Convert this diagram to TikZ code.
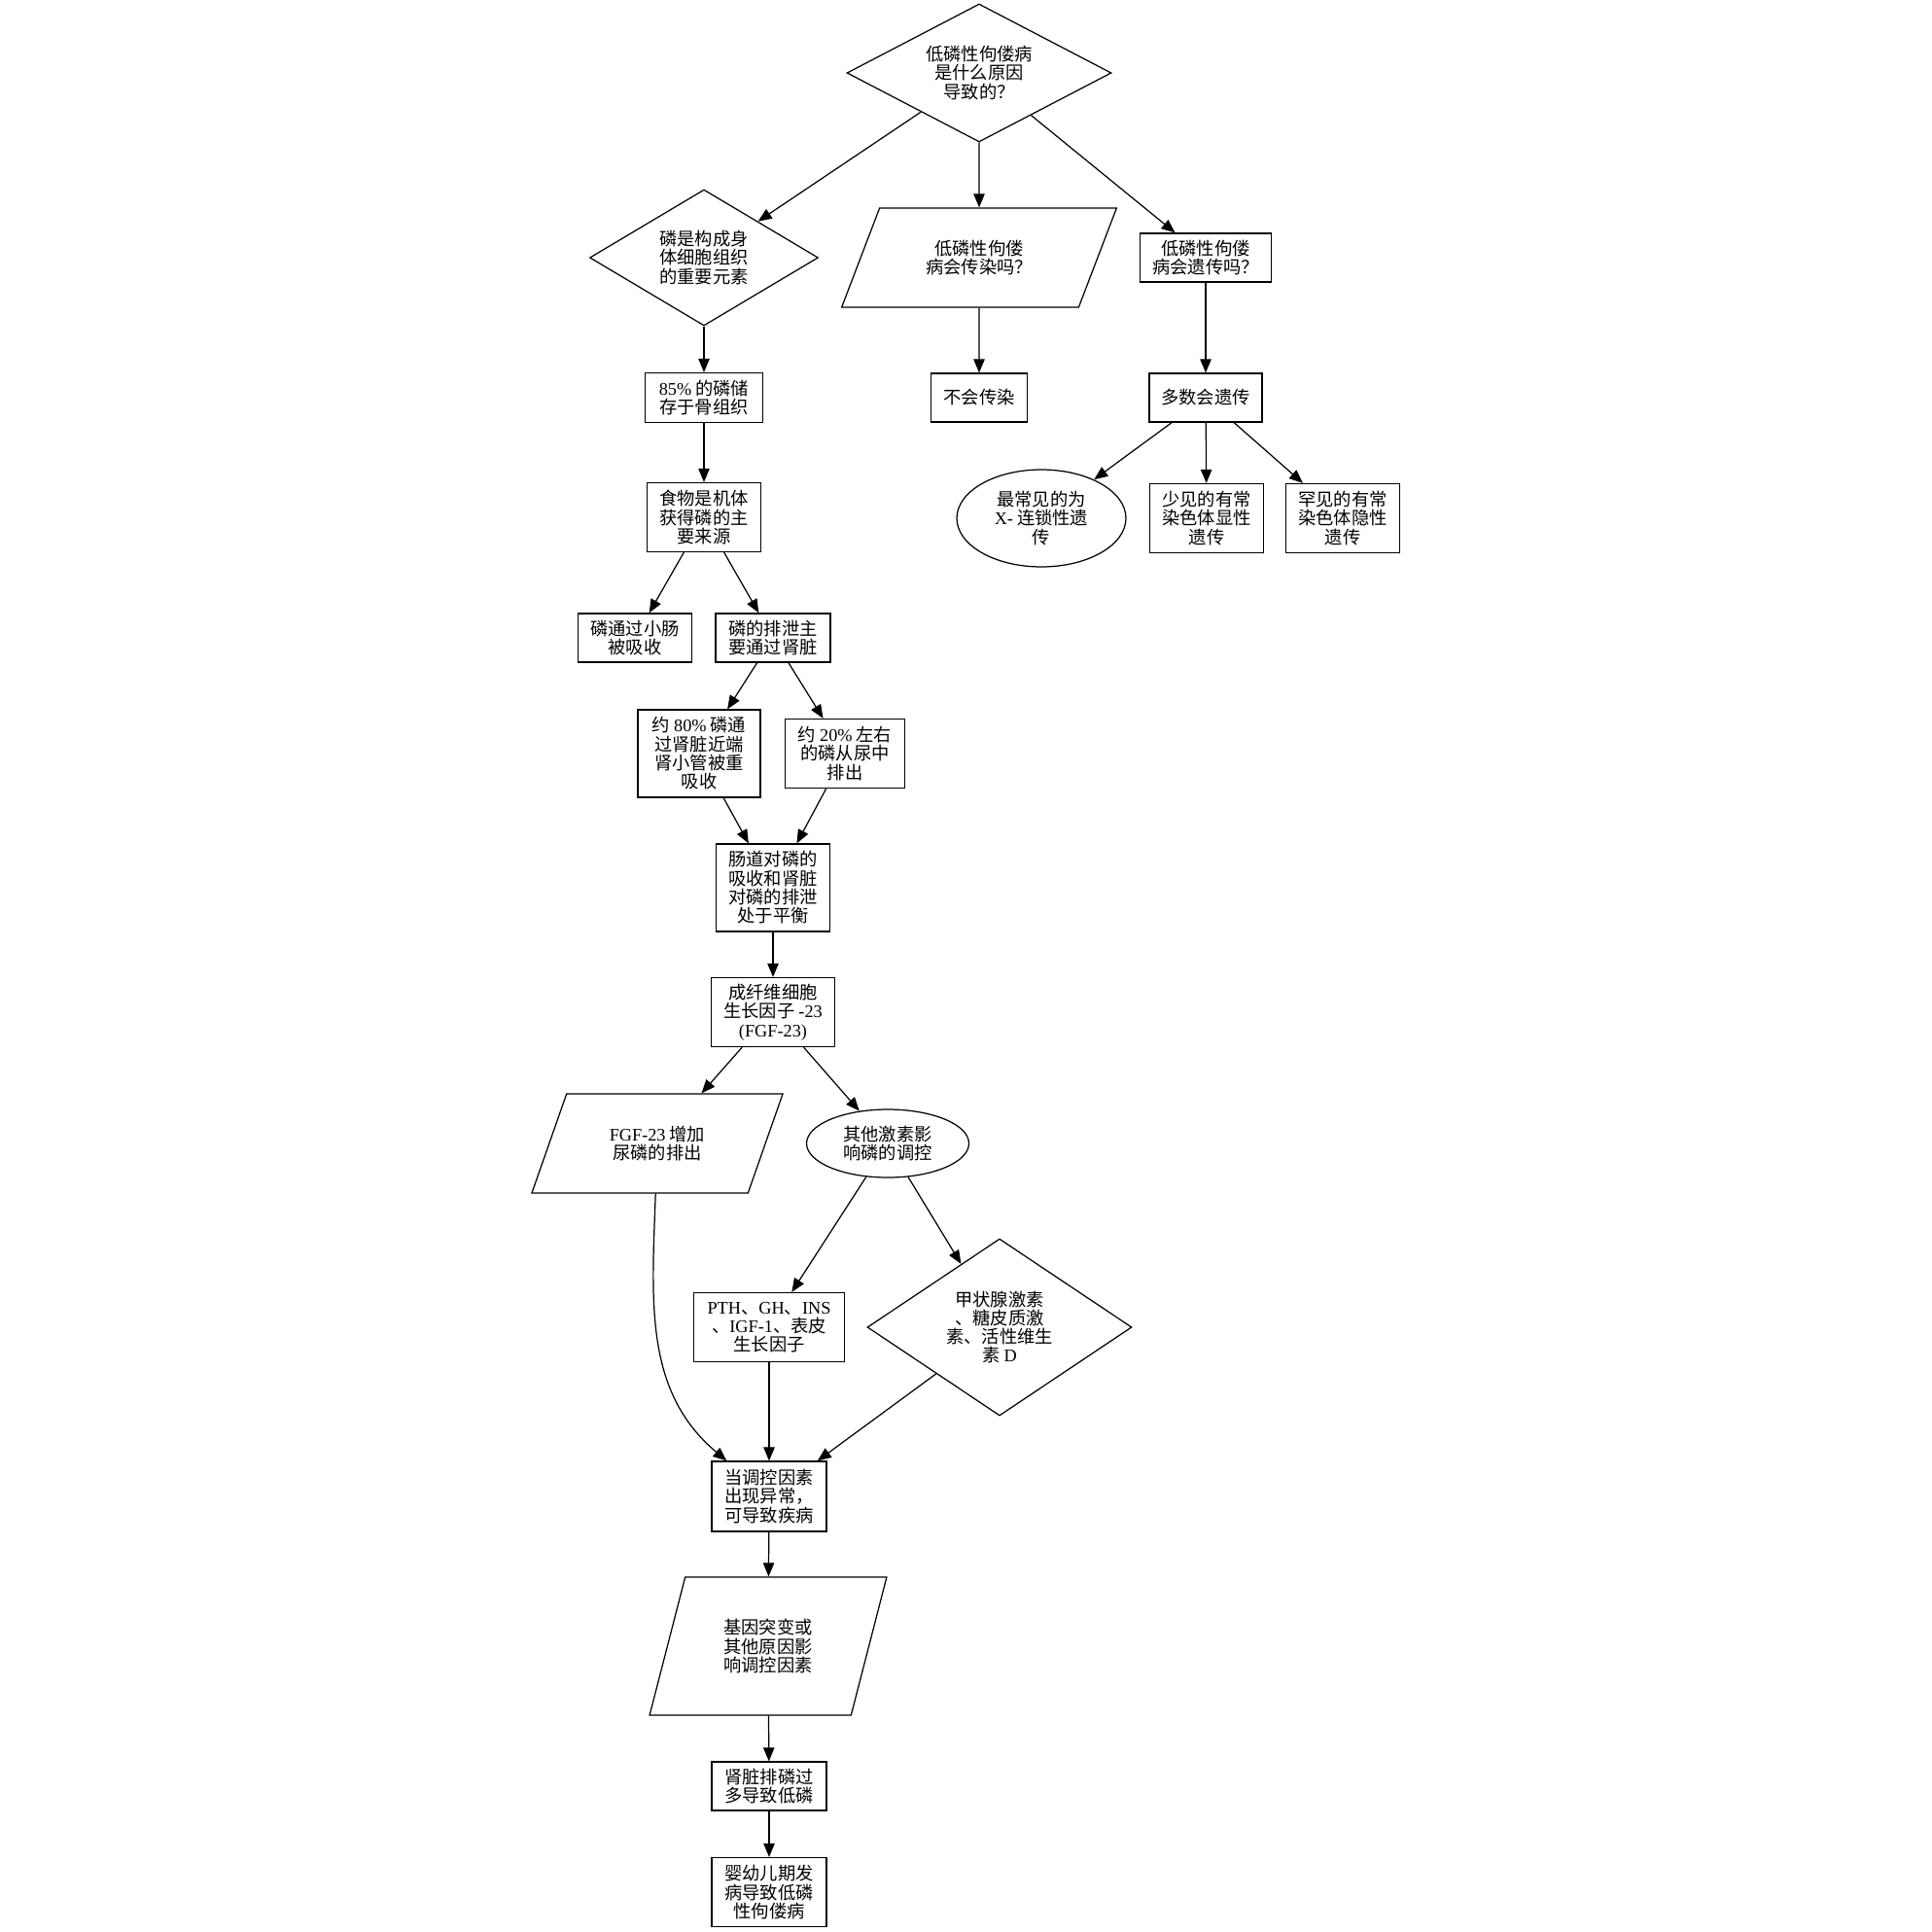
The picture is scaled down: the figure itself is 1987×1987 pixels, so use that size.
\documentclass[tikz,border=0pt]{standalone}
\usepackage{fontspec}
\setmainfont{Liberation Serif}
\newfontfamily\cjk{Noto Sans CJK SC}
\usetikzlibrary{shapes.geometric,arrows.meta}
\newcommand\latn[1]{{\rmfamily #1}}
\begin{document}
\begin{tikzpicture}[x=0.02cm,y=0.02cm,line width=0.7pt,
  >={Triangle[length=8pt,width=6.5pt]},
  font=\cjk\fontsize{10.4}{11}\selectfont,
  every node/.style={draw, align=center, inner sep=0pt},
  box/.style n args={2}{rectangle, minimum width=#1cm, minimum height=#2cm},
  dia/.style n args={2}{diamond, aspect=1.8, minimum width=#1cm, minimum height=#2cm},
  oval/.style n args={2}{ellipse, minimum width=#1cm, minimum height=#2cm},
  para/.style n args={3}{trapezium, trapezium stretches=true,
    trapezium left angle=#3, trapezium right angle=180-#3,
    minimum width=#1cm, minimum height=#2cm}]
\fill[white] (0,0) rectangle (1987,-1987);

% question and its three branches
\node[dia={5.44}{2.84}] (q0) at (1007,-75) {低磷性佝偻病\\是什么原因\\导致的？};
\node[dia={4.7}{2.8}] (elem) at (724,-265) {磷是构成身\\体细胞组织\\的重要元素};
\node[para={5.66}{2.04}{60}] (infect) at (1007,-265) {低磷性佝偻\\病会传染吗？};
\node[box={2.7}{1.0}] (inherit) at (1240,-265) {低磷性佝偻\\病会遗传吗？};
\node[box={2.42}{1.02}] (bone) at (724,-409) {\latn{85\%} 的磷储\\存于骨组织};
\node[box={1.98}{1.0}] (noinf) at (1007,-409) {不会传染};
\node[box={2.32}{1.0}] (most) at (1240,-409) {多数会遗传};
\node[oval={3.48}{2.0}] (xlink) at (1071,-533) {最常见的为\\\latn{X-} 连锁性遗\\传};
\node[box={2.34}{1.42}] (adom) at (1241,-533) {少见的有常\\染色体显性\\遗传};
\node[box={2.34}{1.42}] (arec) at (1381,-533) {罕见的有常\\染色体隐性\\遗传};

% phosphate path
\node[box={2.34}{1.42}] (food) at (724,-532) {食物是机体\\获得磷的主\\要来源};
\node[box={2.34}{1.0}] (gut) at (653,-656) {磷通过小肠\\被吸收};
\node[box={2.36}{1.0}] (kid) at (795,-656) {磷的排泄主\\要通过肾脏};
\node[box={2.52}{1.8}] (p80) at (719,-775) {约 \latn{80\%} 磷通\\过肾脏近端\\肾小管被重\\吸收};
\node[box={2.46}{1.42}] (p20) at (869,-775) {约 \latn{20\%} 左右\\的磷从尿中\\排出};
\node[box={2.34}{1.8}] (bal) at (795,-913) {肠道对磷的\\吸收和肾脏\\对磷的排泄\\处于平衡};
\node[box={2.54}{1.42}] (fgf) at (795,-1041) {成纤维细胞\\生长因子 \latn{-23}\\\latn{(FGF-23)}};
\node[para={5.2}{2.04}{62.5}] (fgfup) at (676,-1176) {\latn{FGF-23} 增加\\尿磷的排出};
\node[oval={3.34}{1.4}] (other) at (913,-1176) {其他激素影\\响磷的调控};
\node[box={3.1}{1.42}] (pth) at (791,-1365) {\latn{PTH}、\latn{GH}、\latn{INS}\\、\latn{IGF-1}、表皮\\生长因子};
\node[dia={5.44}{3.64}] (thy) at (1028,-1365) {甲状腺激素\\、糖皮质激\\素、活性维生\\素 \latn{D}};
\node[box={2.36}{1.44}] (regul) at (791,-1539) {当调控因素\\出现异常，\\可导致疾病};
\node[para={4.9}{2.84}{70.6}] (gene) at (790,-1693) {基因突变或\\其他原因影\\响调控因素};
\node[box={2.36}{1.0}] (exc) at (791,-1837) {肾脏排磷过\\多导致低磷};
\node[box={2.36}{1.42}] (infant) at (791,-1946) {婴幼儿期发\\病导致低磷\\性佝偻病};

\draw[->] (q0) -- (elem);
\draw[->] (q0) -- (infect);
\draw[->] (q0) -- (inherit);
\draw[->] (elem) -- (bone);
\draw[->] (infect) -- (noinf);
\draw[->] (inherit) -- (most);
\draw[->] (most) -- (xlink);
\draw[->] (most) -- (adom);
\draw[->] (most) -- (arec);
\draw[->] (bone) -- (food);
\draw[->] (food) -- (gut);
\draw[->] (food) -- (kid);
\draw[->] (kid) -- (p80);
\draw[->] (kid) -- (p20);
\draw[->] (p80) -- (bal);
\draw[->] (p20) -- (bal);
\draw[->] (bal) -- (fgf);
\draw[->] (fgf) -- (fgfup);
\draw[->] (fgf) -- (other);
\draw[->] (other) -- (pth);
\draw[->] (other) -- (thy);
\draw[->] (fgfup) to[out=268,in=140] (regul);
\draw[->] (pth) -- (regul);
\draw[->] (thy) -- (regul);
\draw[->] (regul) -- (gene);
\draw[->] (gene) -- (exc);
\draw[->] (exc) -- (infant);
\end{tikzpicture}
\end{document}
